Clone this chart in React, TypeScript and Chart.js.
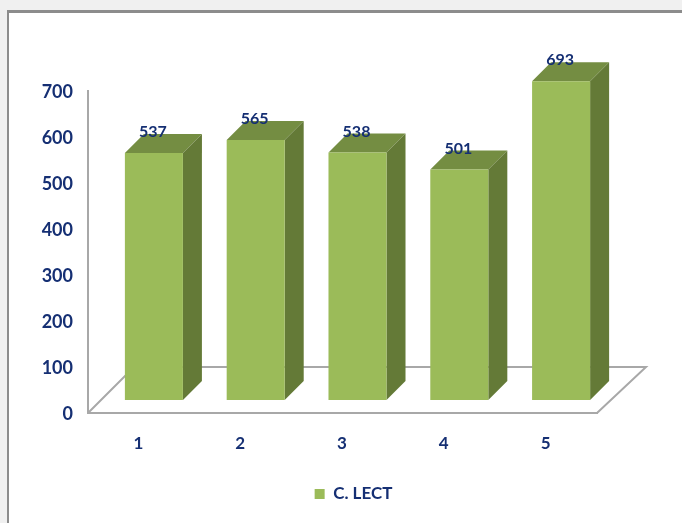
import React, { useEffect, useRef } from "react";
import { Chart, registerables } from "chart.js";

Chart.register(...registerables);

const categories = ["1", "2", "3", "4", "5"];
const seriesName = "C. LECT";
const values = [537, 565, 538, 501, 693];
const yMax = 700;
const yStep = 100;

const NAVY = "#152f73";
const FRONT = "#9bbb59";
const TOP = "#748d42";
const SIDE = "#647a37";
const FLOOR = "#a8a8a8";
const FONT = "Lato";

const SHIFT_X = 15;
const SHIFT_Y = -13;
const DEPTH_X = 19;
const DEPTH_Y = 19;

const poly = (ctx: CanvasRenderingContext2D, pts: number[][], fill: string) => {
  ctx.beginPath();
  pts.forEach(([x, y], i) => (i ? ctx.lineTo(x, y) : ctx.moveTo(x, y)));
  ctx.closePath();
  ctx.fillStyle = fill;
  ctx.fill();
};

const nudgeLabels = (s: any, dx: number, dy: number) => {
  if (s.__nudged) return;
  s.__nudged = true;
  const orig = s._computeLabelItems;
  s._computeLabelItems = (area: any) =>
    orig.call(s, area).map((it: any) => ({
      ...it,
      options: {
        ...it.options,
        translation: [it.options.translation[0] + dx, it.options.translation[1] + dy],
      },
    }));
};

const bars3d = {
  id: "bars3d",
  afterLayout(chart: any) {
    const lg = chart.legend;
    if (lg) {
      lg.left = 55;
      lg.right = 55 + 597;
    }
  },
  beforeDatasetsDraw(chart: any) {
    const ctx: CanvasRenderingContext2D = chart.ctx;
    const { left, right, bottom } = chart.chartArea;
    const yBack = chart.scales.y.getPixelForValue(yStep);
    ctx.save();
    ctx.strokeStyle = FLOOR;
    ctx.lineWidth = 2;
    ctx.beginPath();
    ctx.moveTo(left, bottom);
    ctx.lineTo(left + 46, yBack);
    ctx.lineTo(right + 49, yBack);
    ctx.lineTo(right, bottom);
    ctx.stroke();
    ctx.restore();

    ctx.save();
    ctx.translate(SHIFT_X, SHIFT_Y);
    chart.getDatasetMeta(0).data.forEach((b: any) => {
      const l = b.x - b.width / 2;
      const r = b.x + b.width / 2;
      poly(ctx, [[l, b.y], [r, b.y], [r + DEPTH_X, b.y - DEPTH_Y], [l + DEPTH_X, b.y - DEPTH_Y]], TOP);
      poly(ctx, [[r, b.y], [r + DEPTH_X, b.y - DEPTH_Y], [r + DEPTH_X, b.base - DEPTH_Y], [r, b.base]], SIDE);
    });
  },
  afterDatasetsDraw(chart: any) {
    const ctx: CanvasRenderingContext2D = chart.ctx;
    ctx.font = `700 16px ${FONT}`;
    ctx.fillStyle = NAVY;
    ctx.textAlign = "center";
    ctx.textBaseline = "middle";
    chart.getDatasetMeta(0).data.forEach((b: any, i: number) => {
      ctx.fillText(String(values[i]), b.x - 1, b.y - 21);
    });
    ctx.restore();
  },
};

export default function App() {
  const ref = useRef<HTMLCanvasElement>(null);
  useEffect(() => {
    const chart = new Chart(ref.current!, {
      type: "bar",
      plugins: [bars3d],
      data: {
        labels: categories,
        datasets: [
          {
            label: seriesName,
            data: values,
            backgroundColor: FRONT,
            borderWidth: 0,
            barPercentage: 0.57,
            categoryPercentage: 1,
          },
        ],
      },
      options: {
        animation: false,
        responsive: false,
        layout: { padding: { top: 91, right: 85, left: 0, bottom: 10.5 } },
        plugins: {
          tooltip: { enabled: false },
          legend: {
            position: "bottom",
            labels: {
              boxWidth: 10,
              boxHeight: 10,
              padding: 10,
              color: NAVY,
              font: { family: FONT, size: 17, weight: "700" },
            },
          },
        },
        scales: {
          x: {
            afterFit: (s: any) => {
              s.height = 62.5;
              nudgeLabels(s, -0.5, 0);
            },
            grid: { display: false },
            border: { color: FLOOR, width: 2 },
            ticks: {
              padding: 12,
              maxRotation: 0,
              color: NAVY,
              font: { family: FONT, size: 17, weight: "700" },
            },
          },
          y: {
            min: 0,
            max: yMax,
            afterFit: (s: any) => {
              s.width = 88;
              nudgeLabels(s, 0, 1.5);
            },
            grid: { display: false, drawTicks: false },
            border: { color: FLOOR, width: 2 },
            ticks: {
              stepSize: yStep,
              padding: 15,
              color: NAVY,
              font: { family: FONT, size: 18, weight: "700" },
            },
          },
        },
      },
    } as any);
    return () => chart.destroy();
  }, []);
  return (
    <div style={{ position: "fixed", left: 0, top: 0, width: 682, height: 523, background: "#f0f0f0", overflow: "hidden" }}>
      <div
        style={{
          position: "absolute",
          left: 7,
          top: 10,
          width: 675,
          height: 513,
          background: "#ffffff",
          borderTop: "3px solid #8c8c8c",
          borderLeft: "2px solid #8c8c8c",
          boxSizing: "border-box",
        }}
      />
      <canvas
        ref={ref}
        width={682}
        height={523}
        style={{ position: "absolute", left: 0, top: 0, width: 682, height: 523, filter: "blur(0.4px)" }}
      />
    </div>
  );
}
